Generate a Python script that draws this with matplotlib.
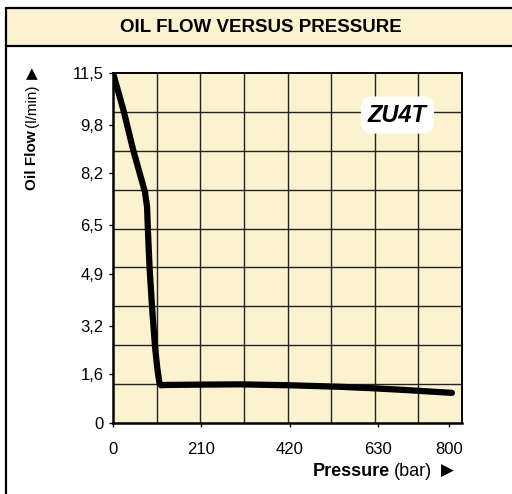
import numpy as np
import matplotlib
matplotlib.use("Agg")
import matplotlib.pyplot as plt
from matplotlib.patches import Rectangle
from matplotlib.lines import Line2D

# data (pressure in bar, flow in l/min)
pressure = [0, 26, 48, 76, 81, 83, 87, 93, 100, 105, 110, 114, 125, 200, 300, 420, 540, 620, 700, 806]
flow = [11.5, 10.22, 8.97, 7.59, 7.1, 6.34, 5.09, 3.78, 2.5, 1.84, 1.35, 1.24, 1.25, 1.26, 1.27, 1.24, 1.19, 1.14, 1.08, 0.99]

xticks = [0, 210, 420, 630, 800]
yticks = [0, 1.6, 3.2, 4.9, 6.5, 8.2, 9.8, 11.5]
ytick_labels = ["0", "1,6", "3,2", "4,9", "6,5", "8,2", "9,8", "11,5"]
x_max = 830
y_max = 11.5

cream = "#fbf2cf"
plain = ["Liberation Sans", "DejaVu Sans"]

W, H = 512, 494
fig = plt.figure(figsize=(W / 100, H / 100), dpi=100)

def fx(px):
    return px / W

def fy(py):
    return (H - py) / H

# frame and title box
fig.patches.append(Rectangle((fx(6), fy(46)), 1.0, fy(8) - fy(46), transform=fig.transFigure,
                             facecolor=cream, edgecolor="black", linewidth=1.6, zorder=0))
fig.lines.append(Line2D([fx(6), fx(6)], [0, fy(46)], transform=fig.transFigure, color="black", linewidth=1.6))
fig.text(fx(261), fy(27), "OIL FLOW VERSUS PRESSURE", ha="center", va="center",
         fontsize=13.5, fontweight="bold", family=plain)

ax = fig.add_axes([fx(113), fy(423), (462 - 113) / W, (423 - 73) / H])
ax.set_facecolor(cream)
ax.set_xlim(0, x_max)
ax.set_ylim(0, y_max)

# grid: 8 columns, 9 rows
ax.set_xticks(np.linspace(0, x_max, 9)[1:-1], minor=True)
ax.set_yticks(np.linspace(0, y_max, 10)[1:-1], minor=True)
ax.grid(which="minor", color="#222222", linewidth=1.0)
ax.tick_params(which="minor", length=0)

ax.set_xticks(xticks)
ax.set_xticklabels([str(v) for v in xticks], family=plain, fontsize=12)
ax.set_yticks(yticks)
ax.set_yticklabels(ytick_labels, family=plain, fontsize=12)
ax.tick_params(axis="x", length=3, width=1, pad=11)
ax.tick_params(axis="y", length=3, width=1, pad=4)
for s in ax.spines.values():
    s.set_linewidth(1.4)
ax.spines["left"].set_linewidth(1.8)
ax.spines["bottom"].set_linewidth(1.8)

ax.plot(pressure, flow, color="black", linewidth=4.5, solid_capstyle="round", solid_joinstyle="round", zorder=5)

ax.text(0.815, 0.88, "ZU4T", transform=ax.transAxes, ha="center", va="center",
        fontsize=17, fontweight="bold", fontstyle="italic", family=plain, zorder=6,
        bbox=dict(boxstyle="round,pad=0.3,rounding_size=0.5", facecolor="white", edgecolor="none"))

# axis labels
t1 = fig.text(fx(390), fy(471), "Pressure", ha="right", va="center", fontsize=13,
              fontweight="bold", family=plain)
t2 = ax.annotate("(bar)", xy=(1, 0.5), xycoords=t1, xytext=(3, 0), textcoords="offset points",
                 ha="left", va="center", fontsize=13, family=plain, annotation_clip=False)
ax.annotate("\u25B6", xy=(1, 0.5), xycoords=t2, xytext=(6, 0), textcoords="offset points",
            ha="left", va="center", fontsize=12, family=["DejaVu Sans"], annotation_clip=False)

t3 = fig.text(fx(32), fy(190), "Oil Flow", ha="center", va="bottom", rotation=90, fontsize=11,
              fontweight="bold", family=plain)
t4 = ax.annotate("(l/min)", xy=(0.5, 1), xycoords=t3, xytext=(0, 2), textcoords="offset points",
                 ha="center", va="bottom", rotation=90, fontsize=11, family=plain, annotation_clip=False)
ax.annotate("\u25B2", xy=(0.5, 1), xycoords=t4, xytext=(0, 3), textcoords="offset points",
            ha="center", va="bottom", fontsize=11, family=["DejaVu Sans"], annotation_clip=False)

fig.savefig("out.png", dpi=100)
